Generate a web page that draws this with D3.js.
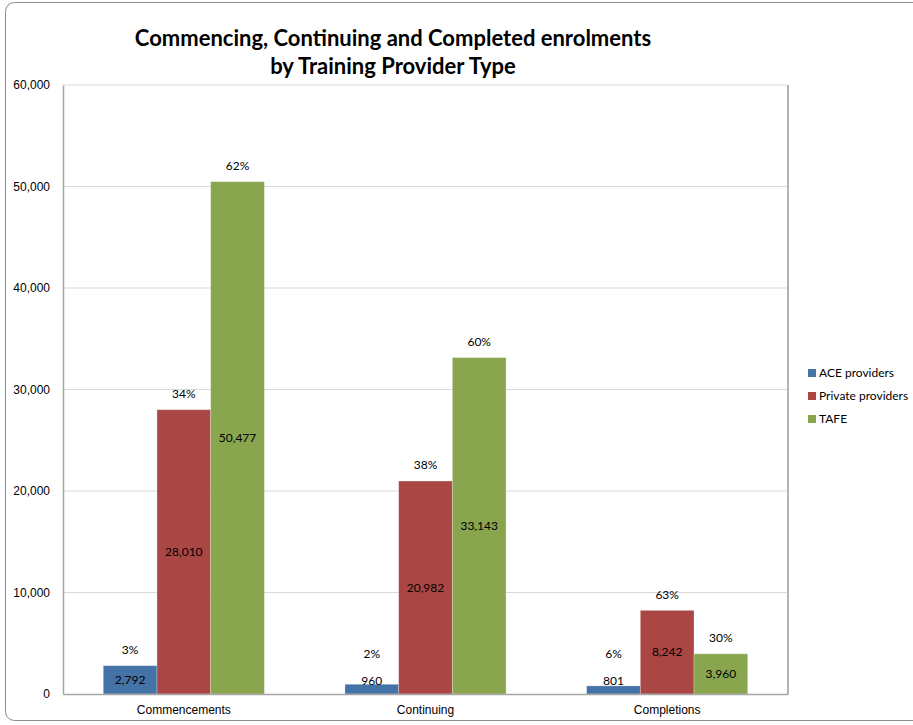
<!DOCTYPE html>
<html>
<head>
<meta charset="utf-8">
<script src="https://cdn.jsdelivr.net/npm/d3@7"></script>
<style>
  body { margin: 0; background: #fff; }
  svg { font-family: Lato, "Liberation Sans", sans-serif; }
</style>
</head>
<body>
<div id="chart"></div>
<script>
const categories = ["Commencements", "Continuing", "Completions"];
const seriesNames = ["ACE providers", "Private providers", "TAFE"];
const aceValues = [2792, 960, 801];
const privateValues = [28010, 20982, 8242];
const tafeValues = [50477, 33143, 3960];
const acePct = ["3%", "2%", "6%"];
const privatePct = ["34%", "38%", "63%"];
const tafePct = ["62%", "60%", "30%"];
const yTicks = [0, 10000, 20000, 30000, 40000, 50000, 60000];
const colors = ["#4572A7", "#AA4643", "#89A54E"];

const width = 913, height = 725;
const margin = {left: 63, right: 125, top: 85, bottom: 31};
const fs = 12;

const svg = d3.select("#chart").append("svg")
    .attr("width", width)
    .attr("height", height);

// chart frame
svg.append("rect")
    .attr("x", 5.5).attr("y", 2.5)
    .attr("width", 930).attr("height", 718)
    .attr("rx", 9)
    .attr("fill", "#fff")
    .attr("stroke", "#8c8c8c");

// title
const title = svg.append("text")
    .attr("text-anchor", "middle")
    .attr("font-weight", "bold")
    .attr("font-size", 22)
    .attr("fill", "#000");
title.append("tspan").attr("x", 393).attr("y", 46).text("Commencing, Continuing and Completed enrolments");
title.append("tspan").attr("x", 393).attr("y", 74).text("by Training Provider Type");

// scales
const xScale = d3.scaleBand()
    .domain(categories)
    .range([margin.left, width - margin.right]);
const yScale = d3.scaleLinear()
    .domain([0, 60000])
    .range([height - margin.bottom, margin.top]);
const barW = xScale.bandwidth() / 4.5;
const xInner = d3.scaleBand()
    .domain(seriesNames)
    .range([0, barW * 3]);
const groupOffset = (xScale.bandwidth() - barW * 3) / 2;

// gridlines
svg.append("g")
    .selectAll("line")
    .data(yTicks.slice(1))
    .join("line")
    .attr("x1", margin.left).attr("x2", width - margin.right)
    .attr("y1", d => yScale(d)).attr("y2", d => yScale(d))
    .attr("stroke", "#d9d9d9");

// y axis
const yAxis = svg.append("g")
    .attr("transform", "translate(" + margin.left + ",0)")
    .call(d3.axisLeft(yScale).tickValues(yTicks).tickFormat(d3.format(",")).tickSize(0).tickPadding(13));
yAxis.select(".domain").attr("stroke", "#a6a6a6").attr("stroke-width", 1.5);
yAxis.selectAll("text").attr("font-size", fs).attr("fill", "#000");

// right border of plot area
svg.append("line")
    .attr("x1", width - margin.right).attr("x2", width - margin.right)
    .attr("y1", yScale(60000)).attr("y2", yScale(0))
    .attr("stroke", "#b3b3b3").attr("stroke-width", 2);

// bars
const rows = categories.map((c, i) => ({
    cat: c,
    items: [
        {s: seriesNames[0], v: aceValues[i], p: acePct[i]},
        {s: seriesNames[1], v: privateValues[i], p: privatePct[i]},
        {s: seriesNames[2], v: tafeValues[i], p: tafePct[i]}
    ]
}));

const groups = svg.append("g")
    .selectAll("g")
    .data(rows)
    .join("g")
    .attr("transform", d => "translate(" + (xScale(d.cat) + groupOffset) + ",0)");

groups.selectAll("rect")
    .data(d => d.items)
    .join("rect")
    .attr("x", d => xInner(d.s))
    .attr("y", d => yScale(d.v))
    .attr("width", xInner.bandwidth())
    .attr("height", d => yScale(0) - yScale(d.v))
    .attr("fill", (d, i) => colors[i])
    .attr("stroke", "#fff")
    .attr("stroke-opacity", 0.35)
    .attr("stroke-width", 0.8);

const valueY = d => Math.min(yScale(d.v / 2), yScale(0) - 13);

groups.selectAll("text.val")
    .data(d => d.items)
    .join("text")
    .attr("class", "val")
    .attr("x", d => xInner(d.s) + xInner.bandwidth() / 2)
    .attr("y", valueY)
    .attr("dy", "0.35em")
    .attr("text-anchor", "middle")
    .attr("font-size", fs)
    .attr("fill", "#000")
    .text(d => d3.format(",")(d.v));

groups.selectAll("text.pct")
    .data(d => d.items)
    .join("text")
    .attr("class", "pct")
    .attr("x", d => xInner(d.s) + xInner.bandwidth() / 2)
    .attr("y", d => Math.min(yScale(d.v) - 16, valueY(d) - 27))
    .attr("dy", "0.35em")
    .attr("text-anchor", "middle")
    .attr("font-size", fs)
    .attr("fill", "#000")
    .text(d => d.p);

// x axis
const xAxis = svg.append("g")
    .attr("transform", "translate(0," + yScale(0) + ")")
    .call(d3.axisBottom(xScale).tickSize(0).tickPadding(11));
xAxis.select(".domain").attr("stroke", "#a6a6a6").attr("stroke-width", 1.5);
xAxis.selectAll("text").attr("font-size", fs).attr("fill", "#000");

// legend
const legend = svg.append("g")
    .attr("transform", "translate(808,369)");
const li = legend.selectAll("g")
    .data(seriesNames)
    .join("g")
    .attr("transform", (d, i) => "translate(0," + i * 23 + ")");
li.append("rect")
    .attr("width", 8).attr("height", 8)
    .attr("fill", (d, i) => colors[i]);
li.append("text")
    .attr("x", 11).attr("y", 4)
    .attr("dy", "0.35em")
    .attr("font-size", fs)
    .attr("fill", "#000")
    .text(d => d);
</script>
</body>
</html>
